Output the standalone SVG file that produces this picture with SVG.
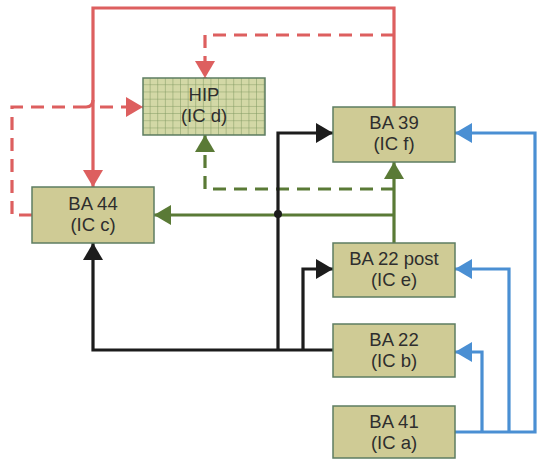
<svg xmlns="http://www.w3.org/2000/svg" width="537" height="460" viewBox="0 0 537 460">
<style>
.box{fill:#cfcb95;stroke:#5e7d62;stroke-width:1.5}
.t{font-family:"Liberation Sans",Arial,sans-serif;font-size:18.5px;fill:#2e2e2e;text-anchor:middle}
.c{fill:none;stroke-width:3.2;stroke-linejoin:miter}
.red{stroke:#dd5f5f}
.grn{stroke:#5a7a36}
.blk{stroke:#1c1c1c}
.blu{stroke:#4a8fd3}
.dash{stroke-dasharray:13 8}
</style>
<defs>
<marker id="aR" markerUnits="userSpaceOnUse" markerWidth="20" markerHeight="20" refX="17" refY="10" orient="auto"><path d="M0,0 L17,10 L0,20 Z" fill="#dd5f5f"/></marker>
<marker id="aG" markerUnits="userSpaceOnUse" markerWidth="20" markerHeight="20" refX="17" refY="10" orient="auto"><path d="M0,0 L17,10 L0,20 Z" fill="#5a7a36"/></marker>
<marker id="aK" markerUnits="userSpaceOnUse" markerWidth="20" markerHeight="20" refX="17" refY="10" orient="auto"><path d="M0,0 L17,10 L0,20 Z" fill="#1c1c1c"/></marker>
<marker id="aB" markerUnits="userSpaceOnUse" markerWidth="20" markerHeight="20" refX="17" refY="10" orient="auto"><path d="M0,0 L17,10 L0,20 Z" fill="#4a8fd3"/></marker>
<pattern id="grid" patternUnits="userSpaceOnUse" x="143" y="78" width="7.6" height="7.2">
<rect width="7.6" height="7.2" fill="#d3d8a6"/>
<path d="M7.6,0 V7.2 M0,7.2 H7.6" stroke="#7f9860" stroke-width="1" fill="none"/>
</pattern>
</defs>
<g id="connectors">
<path class="c red" d="M394,107 V8 H93 V187" marker-end="url(#aR)"/>
<path class="c red dash" d="M394,35 H205 V78" marker-end="url(#aR)"/>
<path class="c red dash" d="M32,215 H12 V107 H86 M100,107 H143" marker-end="url(#aR)"/>
<path class="c red" d="M86,107 Q93,107 93,100" stroke-width="2"/>
<path class="c grn" d="M394,243 V162" marker-end="url(#aG)"/>
<path class="c grn" d="M394,215 H154" marker-end="url(#aG)"/>
<path class="c grn dash" d="M394,189 H205 V135" marker-end="url(#aG)"/>
<path class="c blk" d="M333,350 H93 V243" marker-end="url(#aK)"/>
<path class="c blk" d="M278,350 V133 H333" marker-end="url(#aK)"/>
<path class="c blk" d="M303,350 V269 H333" marker-end="url(#aK)"/>
<circle cx="278" cy="214" r="4" fill="#1c1c1c"/>
<path class="c blu" d="M455,432 H535 V133 H455" marker-end="url(#aB)"/>
<path class="c blu" d="M509,432 V269 H455" marker-end="url(#aB)"/>
<path class="c blu" d="M482,432 V352 H455" marker-end="url(#aB)"/>
</g>
<g id="hip">
<rect x="143" y="78" width="122" height="57" fill="url(#grid)" stroke="#5e7d62" stroke-width="1.5"/>
<text class="t" x="204" y="101">HIP</text>
<text class="t" x="204" y="122">(IC d)</text>
</g>
<g id="ba44">
<rect class="box" x="32" y="187" width="122" height="56"/>
<text class="t" x="93" y="210">BA 44</text>
<text class="t" x="93" y="231">(IC c)</text>
</g>
<g id="ba39">
<rect class="box" x="333" y="107" width="122" height="55"/>
<text class="t" x="394" y="129">BA 39</text>
<text class="t" x="394" y="150">(IC f)</text>
</g>
<g id="ba22post">
<rect class="box" x="333" y="243" width="122" height="54"/>
<text class="t" x="394" y="265">BA 22 post</text>
<text class="t" x="394" y="286">(IC e)</text>
</g>
<g id="ba22">
<rect class="box" x="333" y="324" width="122" height="53"/>
<text class="t" x="394" y="346">BA 22</text>
<text class="t" x="394" y="367">(IC b)</text>
</g>
<g id="ba41">
<rect class="box" x="333" y="406" width="122" height="52"/>
<text class="t" x="394" y="428">BA 41</text>
<text class="t" x="394" y="449">(IC a)</text>
</g>
</svg>
